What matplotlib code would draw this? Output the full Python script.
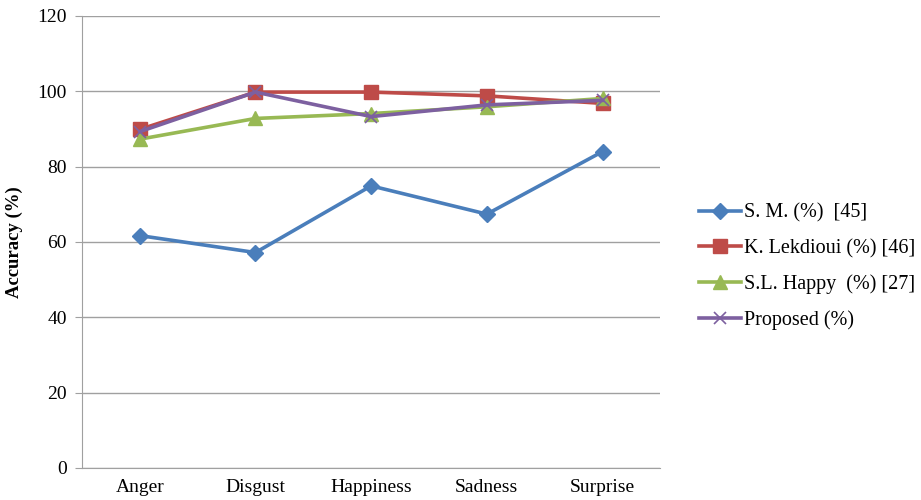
import numpy as np
import matplotlib.pyplot as plt

plt.rcParams['font.family'] = ['Liberation Serif', 'DejaVu Serif']

# Accuracy per emotion for each method
emotions = ['Anger', 'Disgust', 'Happiness', 'Sadness', 'Surprise']
sm = [61.7, 57.2, 74.9, 67.4, 84.0]
lekdioui = [89.9, 99.8, 99.8, 98.8, 96.8]
happy = [87.3, 92.8, 94.1, 95.9, 98.1]
proposed = [89.3, 99.8, 93.3, 96.4, 97.6]

labels = ['S. M. (%)  [45]', 'K. Lekdioui (%) [46]',
          'S.L. Happy  (%) [27]', 'Proposed (%)']

fig = plt.figure(figsize=(9.21, 5), dpi=100)
ax = fig.add_axes([0.089, 0.064, 0.628, 0.904])

x = np.arange(len(emotions))
ax.plot(x, sm, color='#4A7EBB', lw=2.6, marker='D', ms=8, label=labels[0])
ax.plot(x, lekdioui, color='#BE4B48', lw=2.6, marker='s', ms=10, label=labels[1])
ax.plot(x, happy, color='#98B954', lw=2.6, marker='^', ms=10, label=labels[2])
ax.plot(x, proposed, color='#7D60A0', lw=2.6, marker='x', ms=9, mew=1.2,
        label=labels[3])

ax.set_xlim(-0.5, len(emotions) - 0.5)
ax.set_ylim(0, 120)
ax.set_yticks(np.arange(0, 121, 20))
ax.set_xticks(x)
ax.set_xticklabels(emotions)
ax.tick_params(axis='x', length=0, pad=8, labelsize=14)
ax.tick_params(axis='y', length=5, color='#A0A0A0', pad=6, labelsize=14)
ax.grid(axis='y', color='#A0A0A0', lw=1)
ax.set_axisbelow(True)
for s in ['top', 'right']:
    ax.spines[s].set_visible(False)
for s in ['left', 'bottom']:
    ax.spines[s].set_color('#A0A0A0')
ax.set_ylabel('Accuracy (%)', fontsize=13.5, fontweight='bold', labelpad=10)

ax.legend(loc='center left', bbox_to_anchor=(1.035, 0.445), frameon=False,
          fontsize=14.5, handlelength=2.1, handletextpad=0.15, labelspacing=0.8)

fig.savefig('out.png', dpi=100)
